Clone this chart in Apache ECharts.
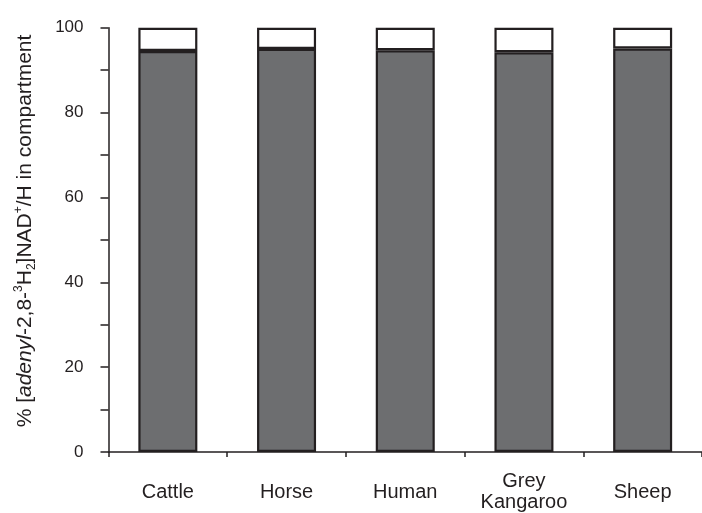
<!DOCTYPE html>
<html>
<head>
<meta charset="utf-8">
<script src="https://cdn.jsdelivr.net/npm/echarts@6/dist/echarts.min.js"></script>
<style>html,body{margin:0;padding:0;background:#fff}#c{width:702px;height:513px}</style>
</head>
<body>
<div id="c"></div>
<script>
const categories = ['Cattle', 'Horse', 'Human', 'Grey\nKangaroo', 'Sheep'];
const compartmentValues = [94.5, 95.0, 94.7, 94.2, 95.1];
const remainderValues = compartmentValues.map(v => +(100 - v).toFixed(1));
const yTicks = [0, 20, 40, 60, 80, 100];

const ink = '#231f20';
const chart = echarts.init(document.getElementById('c'), null, {renderer: 'canvas'});
chart.setOption({
  animation: false,
  backgroundColor: '#fff',
  textStyle: {fontFamily: 'Liberation Sans, Arial, sans-serif'},
  grid: {left: 108.5, right: -4, top: 27.7, bottom: 59, containLabel: false},
  xAxis: {
    type: 'category',
    data: categories,
    axisLine: {lineStyle: {color: ink, width: 1.5}},
    axisTick: {show: true, length: 5, lineStyle: {color: ink, width: 1.5}},
    axisLabel: {color: ink, fontSize: 20, margin: 40, verticalAlign: 'middle', lineHeight: 21, fontFamily: 'Liberation Sans'}
  },
  yAxis: {
    type: 'value',
    min: yTicks[0], max: yTicks[yTicks.length - 1], interval: 20,
    axisLine: {show: true, lineStyle: {color: ink, width: 1.5}},
    axisTick: {show: true, length: 8, lineStyle: {color: ink, width: 1.5}},
    minorTick: {show: true, splitNumber: 2, length: 8, lineStyle: {color: ink, width: 1.5}},
    splitLine: {show: false},
    axisLabel: {color: ink, fontSize: 17, margin: 25, fontFamily: 'Liberation Sans'}
  },
  graphic: [{
    type: 'text',
    x: 25, y: 231,
    rotation: Math.PI / 2,
    style: {
      text: '% [{i|adenyl}-2,8-{sup|3}H{sub|2}]NAD{sup|+}/H in compartment',
      font: '21px Liberation Sans',
      fill: ink,
      align: 'center',
      verticalAlign: 'middle',
      lineHeight: 25,
      rich: {
        i: {fontStyle: 'italic', fontSize: 21, fontFamily: 'Liberation Sans', fill: ink, lineHeight: 25},
        sup: {fontSize: 12, fontFamily: 'Liberation Sans', verticalAlign: 'top', lineHeight: 25, fill: ink},
        sub: {fontSize: 12, fontFamily: 'Liberation Sans', verticalAlign: 'bottom', lineHeight: 25, fill: ink}
      }
    }
  }],
  series: [{
    type: 'bar',
    stack: 'total',
    data: compartmentValues,
    barWidth: 59,
    itemStyle: {color: '#6d6e70', borderColor: ink, borderWidth: 2.2}
  }, {
    type: 'bar',
    stack: 'total',
    data: remainderValues,
    barWidth: 59,
    itemStyle: {color: '#ffffff', borderColor: ink, borderWidth: 2.2}
  }]
});
</script>
</body>
</html>
